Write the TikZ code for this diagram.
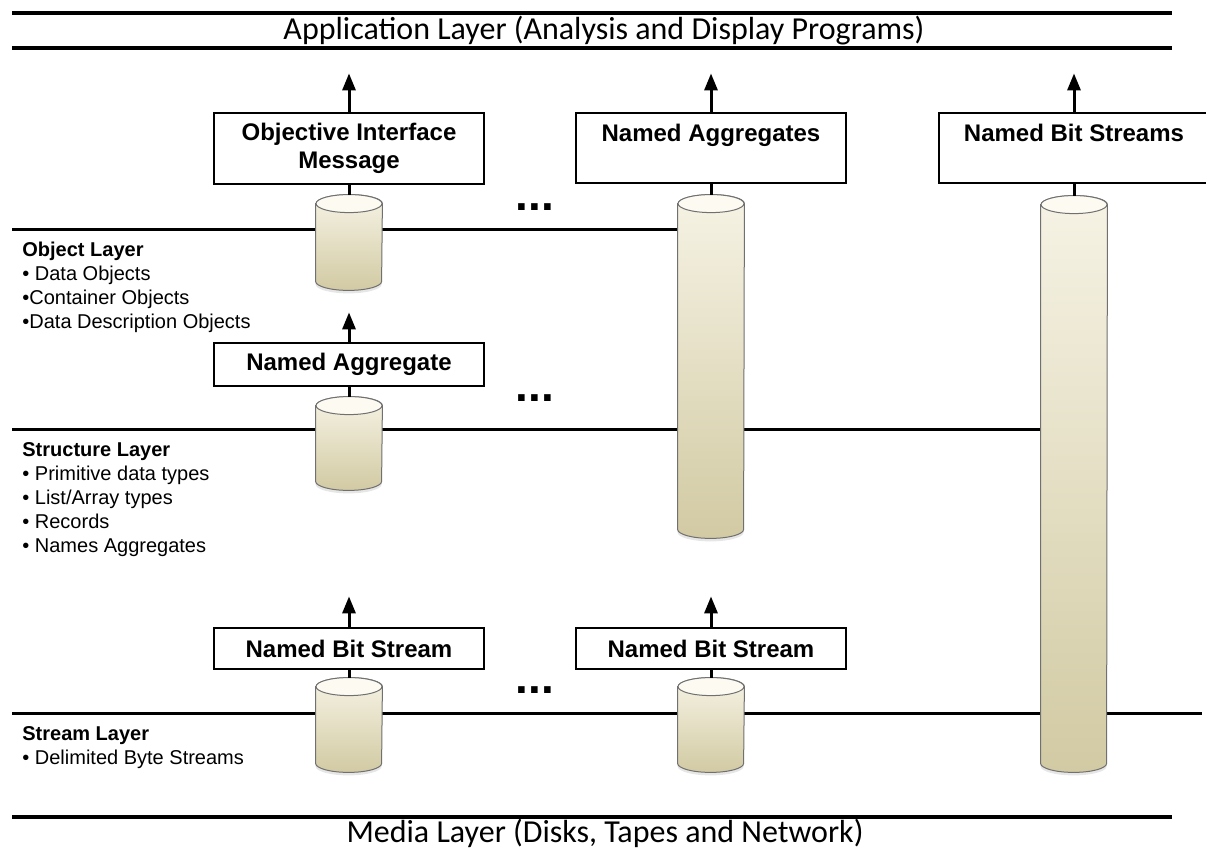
\documentclass[tikz,border=0pt]{standalone}
\usepackage{fontspec}
\setmainfont{Liberation Sans}
\newfontfamily\bannerfont{Carlito}
\usepackage{xcolor}
\usepackage{tikz}
\usetikzlibrary{arrows.meta, positioning, shadows, backgrounds}

\definecolor{cyltop}{HTML}{FCFAF1}
\definecolor{cylhi}{HTML}{F6F3E5}
\definecolor{cylbot}{HTML}{D2CAA3}
\definecolor{cyledge}{HTML}{707070}

\begin{document}
\begin{tikzpicture}[x=0.5pt, y=-0.5pt]
    \tikzstyle{box} = [rectangle, draw, line width=0.6pt, minimum width=135pt, inner sep=0pt,
                       align=center, font=\fontsize{12}{14}\selectfont\bfseries]
    \tikzstyle{tallbox} = [box, minimum height=35pt, text height=9pt, text depth=15.4pt]
    \tikzstyle{store} = [rectangle, minimum width=33pt, inner sep=0pt]
    \tikzstyle{layer} = [line width=1.5pt]
    \tikzstyle{up} = [line width=1.5pt, -{Triangle[width=6.5pt, length=8.5pt]}]
    \tikzstyle{link} = [line width=1.5pt]
    \tikzstyle{rule} = [line width=2pt]
    \tikzstyle{info} = [align=left, anchor=north west, inner sep=0pt, font=\fontsize{10}{12}\selectfont]
    \tikzstyle{more} = [inner sep=0pt, font=\fontsize{23}{23}\selectfont\bfseries]
    \tikzstyle{banner} = [font=\bannerfont\fontsize{16}{19}\selectfont]

    \useasboundingbox (0,0) rectangle (1206,849);

    \draw[rule] (12,13) -- (1172,13);
    \draw[rule] (12,48) -- (1172,48);
    \draw[rule] (12,817) -- (1172,817);
    \node[banner] (app) at (604,31) {Application Layer (Analysis and Display Programs)};
    \node[banner] (media) at (605,833) {Media Layer (Disks, Tapes and Network)};

    \node[box, minimum height=35.5pt] (oim) at (349,148.5) {Objective Interface\\Message};
    \node[tallbox] (aggs) at (711,148) {Named Aggregates};
    \node[tallbox] (bits) at (1074,148) {Named Bit Streams};
    \node[box, minimum height=21.5pt] (agg) at (349,364.5) {Named Aggregate};
    \node[box, minimum height=20.5pt] (bitA) at (349,648.5) {Named Bit Stream};
    \node[box, minimum height=20.5pt] (bitB) at (711,648.5) {Named Bit Stream};

    \node[store, minimum height=47.5pt] (oimcyl) at (349,242.5) {};
    \node[store, minimum height=171.5pt] (aggscyl) at (711,366.5) {};
    \node[store, minimum height=288pt] (bitscyl) at (1074,484) {};
    \node[store, minimum height=46.5pt] (aggcyl) at (349,443.5) {};
    \node[store, minimum height=47pt] (bitAcyl) at (349,725) {};
    \node[store, minimum height=47pt] (bitBcyl) at (711,725) {};

    \foreach \d in {oimcyl, aggscyl, bitscyl, aggcyl, bitAcyl, bitBcyl} {
        \path[draw=cyledge, line width=0.5pt, top color=cylhi, bottom color=cylbot,
              drop shadow={shadow xshift=0pt, shadow yshift=-1.5pt, opacity=0.2}]
            ([yshift=-4.5pt]\d.north west) -- ([yshift=4.5pt]\d.south west)
            arc[start angle=180, end angle=360, x radius=16.5pt, y radius=4.5pt]
            -- ([yshift=-4.5pt]\d.north east)
            arc[start angle=0, end angle=180, x radius=16.5pt, y radius=4.5pt] -- cycle;
        \filldraw[draw=cyledge, line width=0.5pt, fill=cyltop]
            ([yshift=-4.5pt]\d.north) ellipse[x radius=16.5pt, y radius=4.5pt];
    }

    \coordinate[above=19.5pt of oim.north] (oimtip);
    \coordinate[above=19.5pt of aggs.north] (aggstip);
    \coordinate[above=19.5pt of bits.north] (bitstip);
    \coordinate[above=15pt of agg.north] (aggtip);
    \coordinate[above=15.5pt of bitA.north] (bitAtip);
    \coordinate[above=15.5pt of bitB.north] (bitBtip);

    \draw[up] (oim) -- (oimtip);
    \draw[up] (aggs) -- (aggstip);
    \draw[up] (bits) -- (bitstip);
    \draw[up] (agg) -- (aggtip);
    \draw[up] (bitA) -- (bitAtip);
    \draw[up] (bitB) -- (bitBtip);

    \draw[link] (oim) -- (oimcyl);
    \draw[link] (aggs) -- (aggscyl);
    \draw[link] (bits) -- (bitscyl);
    \draw[link] (agg) -- (aggcyl);
    \draw[link] (bitA) -- (bitAcyl);
    \draw[link] (bitB) -- (bitBcyl);

    \coordinate (objW) at (12,230);
    \coordinate (strW) at (12,430);
    \coordinate (strmW) at (12,714);
    \coordinate (strmE) at (1202,714);
    \begin{scope}[on background layer]
        \draw[layer] (objW) -- (objW -| aggscyl.west);
        \draw[layer] (strW) -- (strW -| bitscyl.west);
        \draw[layer] (strmW) -- (strmE);
    \end{scope}

    \node[more] (dotsA) at (535,207) {...};
    \node[more] (dotsB) at (535,398) {...};
    \node[more] (dotsC) at (535,690) {...};

    \node[info] (objinfo) at (22,242) {\textbf{Object Layer}\\• Data Objects\\•Container Objects\\•Data Description Objects};
    \node[info] (strinfo) at (22,442) {\textbf{Structure Layer}\\• Primitive data types\\• List/Array types\\• Records\\• Names Aggregates};
    \node[info] (strminfo) at (22,726) {\textbf{Stream Layer}\\• Delimited Byte Streams};
\end{tikzpicture}
\end{document}
